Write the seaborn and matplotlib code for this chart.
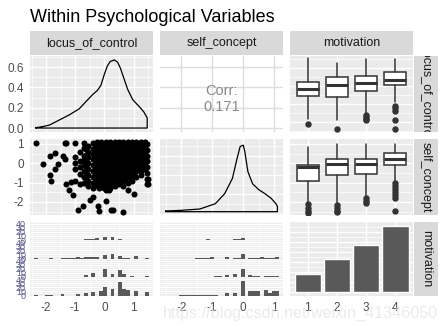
import numpy as np
import matplotlib
matplotlib.use("Agg")
import matplotlib.pyplot as plt
import seaborn as sns

sns.set_theme(style="white")
plt.rcParams['font.family'] = ['Liberation Sans', 'DejaVu Sans']
plt.rcParams['axes.unicode_minus'] = False

# ---------------- data ----------------
title = "Within Psychological Variables"
var_names = ["locus_of_control", "self_concept", "motivation"]
corr_value = 0.171

locus_range = [-2.36, 1.47]
self_range = [-2.50, 1.10]

# density outlines (closed along the baseline, as ggplot draws them)
locus_density_x = [-2.36, -2.1, -1.88, -1.54, -1.2, -0.86, -0.6, -0.4, -0.24, -0.12, 0.0, 0.1, 0.2, 0.34, 0.45, 0.55, 0.68, 0.8, 0.97, 1.1, 1.2, 1.35, 1.47, 1.47, -2.36, -2.36]
locus_density_y = [0.003, 0.015, 0.03, 0.08, 0.13, 0.19, 0.27, 0.33, 0.37, 0.42, 0.53, 0.61, 0.655, 0.67, 0.65, 0.59, 0.48, 0.38, 0.28, 0.24, 0.21, 0.16, 0.10, 0.0, 0.0, 0.003]

self_density_x = [-2.5, -2.0, -1.4, -0.9, -0.6, -0.35, -0.2, -0.1, 0.0, 0.05, 0.15, 0.3, 0.5, 0.7, 0.9, 1.05, 1.1, 1.1, -2.5, -2.5]
self_density_y = [0.01, 0.02, 0.04, 0.12, 0.27, 0.5, 0.8, 0.98, 1.0, 0.9, 0.6, 0.42, 0.33, 0.27, 0.2, 0.12, 0.08, 0.0, 0.0, 0.01]

scatter_col_x = [-1.0, -0.85, -0.7, -0.62, -0.55, -0.4, -0.32, -0.25, -0.17, -0.1, -0.02, 0.05, 0.12, 0.2, 0.27,
                 0.35, 0.42, 0.5, 0.57, 0.65, 0.72, 0.8, 0.87, 0.95, 1.02, 1.1, 1.17, 1.25, 1.32, 1.4, 1.47]
scatter_col_y = [
    [1.05, 0.3, 0.0, -0.3, -0.9],
    [0.6, 0.1, -0.2, -0.55, -1.1],
    [1.05, 0.8, 0.4, 0.15, -0.1, -0.4, -0.7, -1.0],
    [0.75, 0.45, 0.15, -0.15, -0.45, -0.8],
    [0.9, 0.6, 0.3, 0.0, -0.3, -0.6, -0.9, -1.2],
    [1.05, 0.75, 0.5, 0.2, -0.1, -0.4, -0.7, -1.0, -1.3],
    [0.95, 0.7, 0.45, 0.22, -0.02, -0.28, -0.52, -0.78, -1.05],
    [1.1, 0.85, 0.6, 0.35, 0.1, -0.15, -0.4, -0.65, -0.9, -1.15],
    [0.98, 0.72, 0.48, 0.22, -0.03, -0.28, -0.53, -0.78, -1.03, -1.3],
    [1.1, 0.82, 0.6, 0.33, 0.1, -0.15, -0.42, -0.65, -0.92, -1.2],
    [0.98, 0.72, 0.47, 0.22, -0.02, -0.27, -0.52, -0.78, -1.02, -1.28],
    [1.1, 0.85, 0.58, 0.35, 0.08, -0.15, -0.4, -0.67, -0.9, -1.15, -1.4],
    [0.97, 0.73, 0.48, 0.23, -0.03, -0.28, -0.53, -0.77, -1.03],
    [1.1, 0.85, 0.6, 0.35, 0.1, -0.18, -0.4, -0.65, -0.9, -1.3],
    [0.98, 0.72, 0.47, 0.22, -0.02, -0.28, -0.52, -0.78, -1.05],
    [1.08, 0.85, 0.6, 0.37, 0.1, -0.15, -0.4, -0.62, -0.9, -1.2],
    [0.97, 0.72, 0.48, 0.22, -0.03, -0.27, -0.53, -0.78, -1.0],
    [1.1, 0.85, 0.62, 0.35, 0.1, -0.13, -0.4, -0.65, -0.88, -1.1],
    [0.98, 0.73, 0.47, 0.23, -0.02, -0.28, -0.52, -0.77, -1.03],
    [1.1, 0.87, 0.6, 0.35, 0.12, -0.15, -0.38, -0.65, -0.9, -1.2],
    [0.97, 0.72, 0.48, 0.22, -0.03, -0.28, -0.52, -0.8],
    [1.1, 0.85, 0.6, 0.33, 0.1, -0.15, -0.4, -0.65, -1.0],
    [0.98, 0.72, 0.47, 0.23, -0.02, -0.27, -0.53, -0.78],
    [1.1, 0.85, 0.6, 0.35, 0.1, -0.17, -0.4, -0.65, -0.9],
    [0.97, 0.73, 0.48, 0.22, -0.03, -0.28, -0.55],
    [1.1, 0.85, 0.6, 0.35, 0.1, -0.15, -0.4, -0.7],
    [0.98, 0.72, 0.47, 0.22, -0.02, -0.3],
    [1.1, 0.8, 0.5, 0.2, -0.1, -0.4, -0.6],
    [0.97, 0.7, 0.4, 0.1, -0.15],
    [1.1, 0.85, 0.55, 0.25, 0.0, -0.3],
    [1.0, 0.7, 0.4, 0.1, -0.2, -0.5, -0.8, -1.05],
]
scatter_out_x = [-2.36, -2.11, -1.88, -1.71, -1.88, -1.82, -1.68, -1.60, -1.36, -1.30, -1.43, -1.36, -1.31, -1.20, -1.15, -1.06, -0.91, -0.74, -0.51, -0.40, -0.23, -0.17, 0.06, 0.22, 0.30, 0.63, 0.17, 0.80, 1.03, 1.48, 1.48]
scatter_out_y = [1.03, -0.06, 0.40, 0.52, -0.63, -0.92, -0.28, -0.03, 1.03, 1.03, 0.40, 0.22, -1.05, -1.40, -0.95, -1.65, -2.43, -2.22, -1.88, -1.75, -2.22, -2.46, -1.95, -2.43, -2.43, -2.51, -1.40, -1.40, -1.57, -0.80, -1.05]

motivation_levels = [1, 2, 3, 4]
motivation_counts = [55, 100, 140, 198]

# boxplot statistics (locus_of_control by motivation)
locus_box_whislo = [-1.83, -1.93, -1.55, -0.90]
locus_box_q1 = [-0.57, -0.65, -0.30, 0.02]
locus_box_med = [-0.19, 0.07, 0.13, 0.35]
locus_box_q3 = [0.19, 0.47, 0.52, 0.75]
locus_box_whishi = [1.53, 1.25, 1.48, 1.48]
locus_box_fliers = [[-2.15], [-2.39], [-1.65, -1.75, -1.85, -1.93], [-1.14, -1.26, -1.38, -1.93, -2.39]]

self_box_whislo = [-2.08, -2.12, -1.74, -0.97]
self_box_q1 = [-0.92, -0.59, -0.54, -0.08]
self_box_med = [-0.20, -0.05, -0.05, 0.20]
self_box_q3 = [-0.08, 0.23, 0.23, 0.52]
self_box_whishi = [0.83, 1.0, 1.0, 1.0]
self_box_fliers = [[-2.12, -2.3, -2.45, -2.59], [-2.17, -2.3, -2.45, -2.54], [-1.81, -1.93, -2.05], [-1.04, -1.2, -1.35, -1.5, -1.66, -1.81, -2.48]]

locus_bin_centers = [-2.36, -2.228, -2.096, -1.964, -1.832, -1.70, -1.568, -1.436, -1.304, -1.172, -1.04, -0.908, -0.776, -0.644, -0.512, -0.38, -0.248, -0.116, 0.016, 0.148, 0.28, 0.412, 0.544, 0.676, 0.808, 0.94, 1.072, 1.204, 1.336, 1.468]
locus_hist_m1 = [0,0,0,0,0,0,0,0,0,0,0,1,0,2,2,3,4,0,8,0,7,0,2,0,0,0,0,0,0,0]
locus_hist_m2 = [1,0,0,0,1,0,0,1,1,1,1,4,2,3,3,4,4,0,8,0,10,0,7,2,2,0,7,0,0,1]
locus_hist_m3 = [0,0,0,0,0,0,0,1,1,1,1,0,0,5,0,10,0,0,20,0,8,0,18,7,0,3,0,0,0,2]
locus_hist_m4 = [1,0,0,1,1,0,0,4,0,0,0,4,0,7,0,8,0,11,21,0,17,0,33,17,14,0,12,0,0,8]

self_bin_centers = [-2.5, -2.376, -2.252, -2.128, -2.004, -1.879, -1.755, -1.631, -1.507, -1.383, -1.259, -1.135, -1.011, -0.887, -0.763, -0.638, -0.514, -0.39, -0.266, -0.142, -0.018, 0.106, 0.23, 0.354, 0.478, 0.603, 0.727, 0.851, 0.975, 1.1]
self_hist_m1 = [0,0,0,0,0,0,0,0,0,0,0,2,0,0,0,0,1,0,2,2,6,0,1,0,1,0,0,1,0,0]
self_hist_m2 = [0,0,0,0,0,0,0,0,1,1,1,1,3,0,0,0,4,0,2,2,12,0,2,2,2,3,2,2,2,3]
self_hist_m3 = [0,0,0,0,0,0,0,0,0,0,0,1,1,2,3,0,6,0,7,0,21,0,5,3,3,0,2,2,2,2]
self_hist_m4 = [0,0,0,0,1,1,1,1,1,1,1,1,2,2,0,0,5,0,5,0,37,0,12,12,12,0,13,5,12,12]

locus_ticks = [-2, -1, 0, 1]
self_ticks = [-2, -1, 0, 1]
density_ticks = [0.0, 0.2, 0.4, 0.6]
density_tick_labels = ["0.0", "0.2", "0.4", "0.6"]
count_ticks = [0, 10, 20, 30, 40]

# ---------------- style ----------------
PANEL = "#EBEBEB"
STRIP = "#D9D9D9"
DARK = "#595959"
TICKC = "#4D4D4D"
W, H = 446, 326
fig = plt.figure(figsize=(W / 100, H / 100), dpi=100)
fig.patch.set_facecolor("white")


def add_ax(x0, y0, x1, y1, **kw):
    return fig.add_axes([x0 / W, 1 - y1 / H, (x1 - x0) / W, (y1 - y0) / H], **kw)


cols = [(30, 152.8), (160.1, 283), (290.2, 413)]
rows = [(56, 131.5), (138.5, 215), (221.5, 295.5)]


def expand(r, f=0.05):
    d = r[1] - r[0]
    return (r[0] - f * d, r[1] + f * d)


locus_lim = expand(locus_range)
self_lim = expand(self_range)
disc_lim = (0.4, 4.6)


def style(ax, xmaj, xmin, ymaj, ymin, face=PANEL, gridc="white"):
    ax.set_facecolor(face)
    for s in ax.spines.values():
        s.set_visible(False)
    ax.set_xticks(xmaj)
    ax.set_xticks(xmin, minor=True)
    ax.set_yticks(ymaj)
    ax.set_yticks(ymin, minor=True)
    ax.grid(True, which="major", color=gridc, lw=1.0)
    ax.grid(True, which="minor", color=gridc, lw=0.5)
    ax.set_axisbelow(True)
    ax.tick_params(which="both", length=0, labelleft=False, labelbottom=False)
    ax.set_xlabel("")
    ax.set_ylabel("")


def minors(lim, step):
    lo = np.ceil(lim[0] / step) * step
    vals = np.arange(lo, lim[1] + 1e-9, step)
    return [v for v in vals if abs(v / (2 * step) - round(v / (2 * step))) > 0.1]


# ---- row 1 col 1: density of locus
ax = add_ax(*[cols[0][0], rows[0][0], cols[0][1], rows[0][1]])
sns.lineplot(x=locus_density_x, y=locus_density_y, sort=False, estimator=None, color="black", lw=0.9, ax=ax)
ax.set_xlim(locus_lim)
ax.set_ylim(-0.034, 0.709)
style(ax, locus_ticks, minors(locus_lim, 0.5), density_ticks, [0.1, 0.3, 0.5, 0.7])
ax.tick_params(axis="y", which="major", length=3, color="#333333", width=0.6, labelleft=True, labelsize=8.5, labelcolor=TICKC, pad=1.5)
ax.set_yticklabels(density_tick_labels)

# ---- row 1 col 2: correlation
ax = add_ax(cols[1][0], rows[0][0], cols[1][1], rows[0][1])
ax.set_xlim(self_lim)
ax.set_ylim(-0.034, 0.709)
style(ax, self_ticks, [], density_ticks, [], face="white", gridc="#DEDEDE")
ax.text(0.5, 0.43, "Corr:\n%.3f" % corr_value, transform=ax.transAxes, ha="center", va="center",
        fontsize=10.5, color="#8A8A8A", linespacing=1.25)

# ---- boxplot helper
def draw_box(ax, lo, q1, med, q3, hi, fl):
    stats = [dict(whislo=a, q1=b, med=c, q3=d, whishi=e, fliers=f) for a, b, c, d, e, f in zip(lo, q1, med, q3, hi, fl)]
    ax.bxp(stats, positions=motivation_levels, widths=0.75, showcaps=False, patch_artist=True,
           boxprops=dict(facecolor="white", edgecolor="#333333", lw=1.1),
           medianprops=dict(color="#333333", lw=2.2),
           whiskerprops=dict(color="#333333", lw=1.1),
           flierprops=dict(marker="o", markerfacecolor="#333333", markeredgecolor="#333333", markersize=3.6))


# ---- row 1 col 3
ax = add_ax(cols[2][0], rows[0][0], cols[2][1], rows[0][1])
draw_box(ax, locus_box_whislo, locus_box_q1, locus_box_med, locus_box_q3, locus_box_whishi, locus_box_fliers)
ax.set_xlim(disc_lim)
ax.set_ylim(locus_lim)
style(ax, motivation_levels, [], locus_ticks, minors(locus_lim, 0.5))

# ---- row 2 col 1: scatter
sx = [x for x, ys in zip(scatter_col_x, scatter_col_y) for _ in ys] + scatter_out_x
sy = [y for ys in scatter_col_y for y in ys] + scatter_out_y
ax = add_ax(cols[0][0], rows[1][0], cols[0][1], rows[1][1])
sns.scatterplot(x=sx, y=sy, color="black", s=19, linewidth=0, ax=ax)
ax.set_xlim(locus_lim)
ax.set_ylim(self_lim)
style(ax, locus_ticks, minors(locus_lim, 0.5), self_ticks, minors(self_lim, 0.5))
ax.tick_params(axis="y", which="major", length=3, color="#333333", width=0.6, labelleft=True, labelsize=8.5, labelcolor=TICKC, pad=1.5)
ax.set_yticklabels([str(t) for t in self_ticks])

# ---- row 2 col 2: density self
ax = add_ax(cols[1][0], rows[1][0], cols[1][1], rows[1][1])
sns.lineplot(x=self_density_x, y=self_density_y, sort=False, estimator=None, color="black", lw=0.9, ax=ax)
ax.set_xlim(self_lim)
ax.set_ylim(-0.05, 1.1)
style(ax, self_ticks, minors(self_lim, 0.5), [], [])
ax.set_yticks([-0.03, 0.26, 0.55, 0.84])
ax.set_yticks([0.115, 0.405, 0.695, 0.985], minor=True)
ax.tick_params(which="both", length=0, labelleft=False, labelbottom=False)

# ---- row 2 col 3
ax = add_ax(cols[2][0], rows[1][0], cols[2][1], rows[1][1])
draw_box(ax, self_box_whislo, self_box_q1, self_box_med, self_box_q3, self_box_whishi, self_box_fliers)
ax.set_xlim(disc_lim)
ax.set_ylim(self_lim)
style(ax, motivation_levels, [], self_ticks, minors(self_lim, 0.5))

# ---- row 3 col 1/2: faceted histograms
def facethist(col, centers, groups, lim, ticks, left):
    x0, x1 = cols[col]
    y0, y1 = rows[2]
    hband = (y1 - y0) / 4
    w = centers[1] - centers[0]
    edges = [c - w / 2 for c in centers] + [centers[-1] + w / 2]
    for k, g in enumerate(groups):
        a = add_ax(x0, y0 + k * hband, x1, y0 + (k + 1) * hband)
        sns.histplot(x=centers, weights=g, bins=edges, color=DARK, alpha=1, linewidth=0, ax=a)
        a.set_xlim(lim)
        a.set_ylim(0, 46)
        style(a, ticks, minors(lim, 0.5), count_ticks, [5, 15, 25, 35, 45])
        a.grid(False, axis="x")
        if left:
            a.tick_params(axis="y", which="major", length=2, color="#333333", width=0.6, labelleft=True,
                          labelsize=6.5, labelcolor="#5A5A8A", pad=1)
            a.set_yticklabels([str(t) for t in count_ticks])
        if k == 3:
            a.tick_params(axis="x", which="major", length=3, color="#333333", width=0.6, labelbottom=True,
                          labelsize=8.5, labelcolor=TICKC, pad=1.5)
            a.set_xticklabels([str(t) for t in ticks])


facethist(0, locus_bin_centers, [locus_hist_m1, locus_hist_m2, locus_hist_m3, locus_hist_m4], locus_lim, locus_ticks, True)
facethist(1, self_bin_centers, [self_hist_m1, self_hist_m2, self_hist_m3, self_hist_m4], self_lim, self_ticks, False)

# ---- row 3 col 3: bar chart
ax = add_ax(cols[2][0], rows[2][0], cols[2][1], rows[2][1])
sns.barplot(x=motivation_levels, y=motivation_counts, native_scale=True, width=0.9, color=DARK, saturation=1, ax=ax)
ax.set_xlim(disc_lim)
ax.set_ylim(-10, 210)
style(ax, motivation_levels, [], list(range(0, 211, 30)), list(range(15, 211, 30)))
ax.tick_params(axis="x", which="major", length=3, color="#333333", width=0.6, labelbottom=True,
               labelsize=8.5, labelcolor=TICKC, pad=1.5)
ax.set_xticklabels([str(t) for t in motivation_levels])

# ---- strips
for (x0, x1), name in zip(cols, var_names):
    s = add_ax(x0, 31, x1, 55)
    s.set_facecolor(STRIP)
    s.set_xticks([]); s.set_yticks([])
    for sp in s.spines.values():
        sp.set_visible(False)
    s.text(0.5, 0.5, name, ha="center", va="center", fontsize=9, color="#1A1A1A", transform=s.transAxes, clip_on=True)

for (y0, y1), name in zip(rows, var_names):
    s = add_ax(414, y0, 438, y1)
    s.set_facecolor(STRIP)
    s.set_xticks([]); s.set_yticks([])
    for sp in s.spines.values():
        sp.set_visible(False)
    s.text(0.5, 0.5, name, ha="center", va="center", rotation=270, fontsize=9, color="#1A1A1A",
           transform=s.transAxes, clip_on=True)

fig.text(30 / W, 1 - 18 / H, title, ha="left", va="center", fontsize=13, color="black")
fig.text(163 / W, 1 - 313 / H, "https://blog.csdn.net/weixin_41346050", ha="left", va="center",
         fontsize=11.6, color="#E4E4E4", alpha=0.75, zorder=10)

fig.savefig("out.png", dpi=100)
